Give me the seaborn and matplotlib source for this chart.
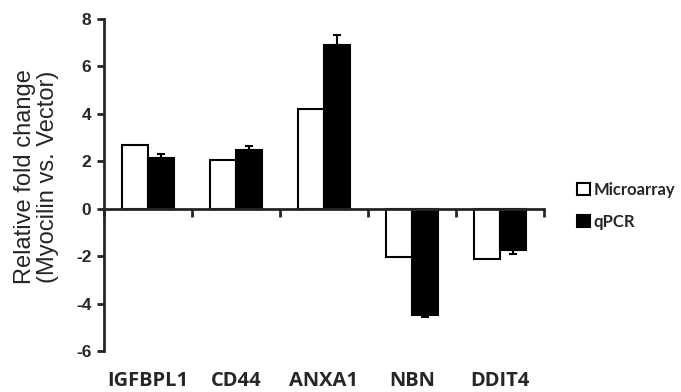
import numpy as np
import pandas as pd
import matplotlib
matplotlib.use("Agg")
import matplotlib.pyplot as plt
import matplotlib.transforms as mtransforms
import seaborn as sns

genes = ["IGFBPL1", "CD44", "ANXA1", "NBN", "DDIT4"]
microarray = [2.7, 2.05, 4.2, -2.03, -2.13]
qpcr = [2.15, 2.47, 6.9, -4.5, -1.75]
qpcr_err = [0.15, 0.17, 0.42, 0.08, 0.14]
series = ["Microarray", "qPCR"]
yticks = [-6, -4, -2, 0, 2, 4, 6, 8]

df = pd.DataFrame({
    "gene": genes * 2,
    "value": microarray + qpcr,
    "method": [series[0]] * len(genes) + [series[1]] * len(genes),
})

sns.set_style("ticks")
plt.rcParams["font.family"] = ["Liberation Sans", "DejaVu Sans"]

fig = plt.figure(figsize=(6.81, 3.92), dpi=100)
ax = fig.add_axes([0.1527, 0.1046, 0.6461, 0.8469])

sns.barplot(data=df, x="gene", y="value", hue="method", hue_order=series,
            order=genes, palette=["white", "black"], edgecolor="black",
            linewidth=1.5, width=0.6, gap=0, errorbar=None, ax=ax)

# one-sided error bars on the qPCR bars
for bar, v, e in zip(ax.containers[1], qpcr, qpcr_err):
    xc = bar.get_x() + bar.get_width() / 2
    yerr = [[0], [e]] if v > 0 else [[e], [0]]
    ax.errorbar(xc, v, yerr=yerr, fmt="none", ecolor="black",
                elinewidth=1.5, capsize=3, capthick=1.5)

ax.set_xlim(-0.5, len(genes) - 0.5)
ax.set_ylim(-6, 8)
ax.set_yticks(yticks)
ax.set_yticklabels([str(t) for t in yticks], fontsize=12.5, fontweight="bold")
ax.spines["right"].set_visible(False)
ax.spines["top"].set_visible(False)
ax.spines["bottom"].set_position(("data", 0))
ax.spines["left"].set_linewidth(2)
ax.spines["bottom"].set_linewidth(2)
ax.tick_params(axis="y", width=2, length=5, pad=4)
ax.set_xticks(np.arange(-0.5, len(genes), 1.0))
ax.set_xticklabels([])
ax.tick_params(axis="x", width=2, length=6, direction="out")
ax.set_xlabel("")
ax.set_ylabel("Relative fold change\n(Myocilin vs. Vector)", fontsize=17,
              linespacing=1.05)
ax.yaxis.set_label_coords(-0.102, 0.524)

trans = mtransforms.blended_transform_factory(ax.transData, ax.transAxes)
for i, g in enumerate(genes):
    ax.text(i, -0.09, g, transform=trans, ha="center", va="center",
            fontsize=14.5, fontweight="bold", family=["Open Sans", "DejaVu Sans"])

handles, labels = ax.get_legend_handles_labels()
ax.legend_.remove()
fig.legend(handles, labels, loc="center left", bbox_to_anchor=(0.83, 0.475),
           frameon=False, handlelength=0.8, handleheight=0.8, handletextpad=0.2,
           labelspacing=0.95, borderpad=0.2,
           prop={"family": "Lato", "weight": "bold", "size": 12})

fig.savefig("out.png", dpi=100)
